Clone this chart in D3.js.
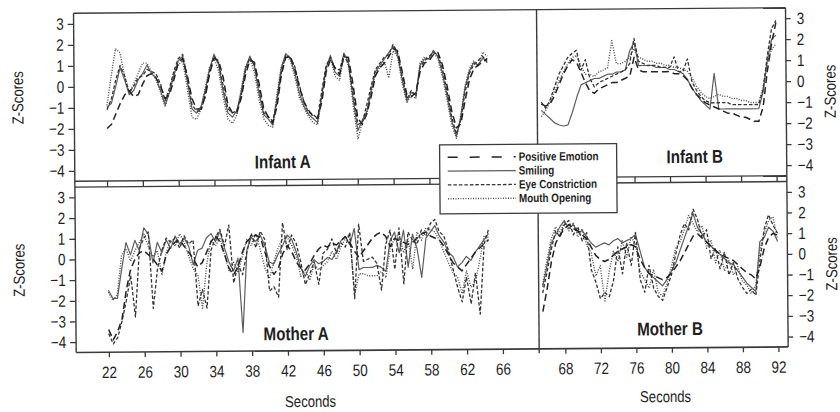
<!DOCTYPE html>
<html><head><meta charset="utf-8">
<script src="https://cdn.jsdelivr.net/npm/d3@7"></script>
<style>
body{margin:0;background:#fff;}
svg{display:block;}
text{font-family:"Liberation Sans",Arial,sans-serif;fill:#1e1e1e;}
</style></head><body><svg id="c" width="840" height="412"></svg>
<script>
// ---------- DATA ----------
const secondsA = [22,22.5,23,23.5,24,24.5,25,25.5,26,26.5,
  27,27.5,28,28.5,29,29.5,30,30.5,31,31.5,
  32,32.5,33,33.5,34,34.5,35,35.5,36,36.5,
  37,37.5,38,38.5,39,39.5,40,40.5,41,41.5,
  42,42.5,43,43.5,44,44.5,45,45.5,46,46.5,
  47,47.5,48,48.5,49,49.5,50,50.5,51,51.5,
  52,52.5,53,53.5,54,54.5,55,55.5,56,56.5,
  57,57.5,58,58.5,59,59.5,60,60.5,61,61.5,
  62,62.5,63,63.5,64,64.5];
const secondsB = [65.5,66,66.5,67,67.5,68,68.5,69,69.5,70,
  70.5,71,71.5,72,72.5,73,73.5,74,74.5,75,
  75.5,76,76.5,77,77.5,78,78.5,79,79.5,80,
  80.5,81,81.5,82,82.5,83,83.5,84,84.5,85,
  85.5,86,86.5,87,87.5,88,88.5,89,89.5,90,
  90.5,91,91.5,92];

const seriesNames = ["Positive Emotion","Smiling","Eye Constriction","Mouth Opening"];
const panelLabels = ["Infant A","Infant B","Mother A","Mother B"];
const zTicks = [-4,-3,-2,-1,0,1,2,3];
const secTicksA = [22,26,30,34,38,42,46,50,54,58,62,66];
const secTicksB = [68,72,76,80,84,88,92];

// Infant A
const infantA_positive = [-2.0,-1.8,-1.3,-0.8,-0.4,-0.2,-0.5,-0.4,0.1,0.5,
  0.6,0.4,0.0,-0.6,-0.4,0.3,1.1,1.3,0.5,-0.6,
  -1.1,-1.1,-0.5,0.6,1.3,1.2,0.4,-0.9,-1.3,-1.3,
  -0.6,0.5,1.2,1.1,0.1,-1.1,-1.5,-1.8,-1.0,0.5,
  1.3,1.4,0.8,-0.1,-0.8,-1.2,-1.5,-1.6,-0.8,0.6,
  1.2,0.8,0.5,1.3,1.3,0.0,-1.6,-1.9,-1.4,-0.6,
  0.4,0.8,1.0,1.3,1.7,1.6,0.6,-0.5,-0.6,-0.4,
  0.6,1.0,1.1,1.4,1.5,0.9,-0.1,-1.3,-2.1,-1.9,
  -0.8,0.2,0.7,0.9,1.0,1.2];
const infantA_smiling = [-1.0,-0.8,0.0,0.9,0.3,-0.4,-0.2,0.3,0.6,1.0,
  0.6,0.4,-0.2,-0.9,-0.3,0.5,1.2,1.4,0.2,-1.1,
  -1.3,-1.0,-0.2,0.8,1.5,1.0,-0.3,-1.3,-1.5,-1.2,
  -0.3,0.8,1.4,0.9,-0.4,-1.4,-1.6,-1.9,-0.6,0.8,
  1.5,1.3,0.6,-0.4,-1.0,-1.4,-1.6,-1.8,-0.5,0.8,
  1.4,0.6,0.4,1.5,1.1,-0.7,-2.2,-1.7,-1.3,-0.3,
  0.6,0.9,1.2,1.5,1.8,1.4,0.2,-0.8,-0.4,-0.5,
  0.9,1.2,1.2,1.6,1.3,0.5,-0.6,-1.8,-2.5,-1.6,
  -0.2,0.6,1.0,0.9,1.2,1.1];
const infantA_eye = [-1.1,-0.6,0.3,1.0,0.5,-0.3,0.0,0.4,0.5,0.8,
  0.7,0.6,0.1,-0.7,-0.1,0.7,1.3,1.5,0.4,-0.9,
  -1.2,-1.2,-0.4,0.7,1.4,1.1,0.0,-1.1,-1.3,-1.2,
  -0.5,0.7,1.3,1.0,-0.1,-1.3,-1.5,-1.7,-0.8,0.6,
  1.4,1.3,0.9,0.0,-0.8,-1.3,-1.4,-1.6,-0.3,0.9,
  1.3,0.8,0.7,1.4,1.0,-0.4,-1.9,-1.8,-1.0,-0.1,
  0.7,1.0,1.3,1.4,1.9,1.5,0.4,-0.7,-0.3,-0.6,
  0.8,1.1,1.3,1.5,1.4,0.7,-0.4,-1.6,-2.4,-1.7,
  -0.4,0.5,0.9,1.1,1.3,1.0];
const infantA_mouth = [-0.9,0.5,1.8,1.6,0.5,-0.3,0.1,0.6,1.1,1.1,
  0.7,0.3,-0.3,-1.0,-0.2,0.6,1.0,1.2,-0.2,-1.5,
  -1.6,-1.1,-0.1,0.9,1.3,0.7,-0.6,-1.6,-1.8,-1.4,
  -0.2,0.9,1.3,0.6,-0.7,-1.6,-1.9,-2.0,-0.4,0.9,
  1.4,1.2,0.4,-0.6,-1.1,-1.5,-1.8,-1.9,-0.6,0.7,
  1.3,0.4,0.2,1.5,0.9,-1.0,-2.6,-1.8,-1.4,-0.4,
  0.5,0.8,1.1,0.3,1.6,1.3,0.0,-0.9,-0.5,-0.7,
  1.0,1.3,1.2,1.5,1.2,0.3,-0.8,-2.0,-2.6,-1.5,
  -0.1,0.7,1.1,0.8,1.5,1.3];

// Infant B
const infantB_positive = [-1.0,-1.1,-1.0,-0.6,-0.1,0.4,0.8,1.1,1.0,0.5,
  0.0,-0.4,-0.5,-0.3,-0.2,-0.1,0.0,0.0,0.1,0.2,
  0.3,1.2,0.6,0.5,0.5,0.5,0.5,0.5,0.5,0.5,
  0.4,0.4,0.3,0.1,-0.3,-0.6,-0.8,-1.0,-1.1,-1.2,
  -1.3,-1.4,-1.5,-1.5,-1.6,-1.7,-1.7,-1.8,-1.9,-1.9,
  -1.2,0.5,1.8,2.8];
const infantB_smiling = [-1.3,-1.5,-1.7,-1.9,-2.0,-2.05,-2.0,-1.4,-0.7,-0.1,
  0.0,0.1,0.2,0.2,0.3,0.4,0.4,0.5,0.5,0.6,
  1.5,1.9,0.8,0.8,0.8,0.8,0.7,0.7,0.7,0.6,
  0.6,0.5,0.4,0.1,-0.3,-0.6,-0.9,-1.1,-1.3,0.4,
  -1.3,-1.3,-1.3,-1.3,-1.3,-1.3,-1.3,-1.3,-1.3,-1.3,
  -0.5,1.0,2.0,2.2];
const infantB_eye = [-0.9,-1.2,-0.8,-0.2,0.4,0.8,1.2,1.4,1.55,0.6,
  1.1,0.2,-0.2,0.0,0.1,0.2,0.3,0.4,0.5,0.6,
  0.9,2.1,1.0,0.9,0.8,0.8,0.8,0.7,0.7,0.7,
  1.2,0.5,0.5,1.1,0.0,-0.4,-0.7,-0.9,-1.0,-1.0,
  -1.0,-1.0,-1.0,-1.1,-1.1,-1.1,-1.1,-1.1,-1.1,-1.1,
  -0.4,1.2,2.5,2.9];
const infantB_mouth = [-1.6,-1.3,-0.9,-0.4,0.1,0.5,0.9,1.2,1.3,0.8,
  0.4,0.4,0.3,0.5,0.6,0.7,2.0,0.9,0.9,1.0,
  1.2,1.6,1.2,1.1,1.0,1.0,0.9,0.9,0.8,0.8,
  0.7,0.7,0.6,0.5,0.2,-0.2,-0.5,-0.7,-0.8,-0.7,
  -0.6,-0.7,-0.7,-0.8,-0.8,-0.9,-0.9,-1.0,-1.0,-1.0,
  -0.3,0.9,1.5,1.8];

// Mother A
const motherA_positive = [-3.4,-3.9,-3.5,-2.9,-1.5,-0.5,0.0,0.3,0.4,0.2,
  0.0,-0.3,-0.6,0.2,0.6,0.8,0.9,0.6,0.3,0.0,
  -0.4,-0.2,0.3,0.8,1.1,0.8,0.2,-0.5,-0.8,-0.4,
  0.3,0.8,1.0,1.1,1.0,0.3,-0.4,-0.8,-0.5,0.2,
  0.6,0.3,-0.2,-0.5,-0.6,-0.3,0.1,0.4,0.6,0.5,
  0.7,0.6,0.8,1.0,0.7,0.3,0.0,0.3,0.6,0.9,
  1.1,1.2,1.0,0.5,0.9,0.8,0.7,0.6,0.7,0.9,
  1.1,1.2,1.0,0.9,0.8,0.5,0.1,-0.3,-0.5,-0.7,
  -0.4,-0.1,0.2,0.4,0.6,0.8];
const motherA_smiling = [-1.5,-1.9,-1.9,-0.5,0.8,0.2,0.9,0.4,1.5,1.2,
  -0.2,0.8,0.3,0.9,0.5,1.1,0.7,1.0,0.6,-0.3,
  0.4,0.5,1.0,1.2,0.8,1.3,0.5,-0.2,-0.6,0.0,
  -3.6,0.4,1.0,0.8,1.1,0.6,-0.2,-0.3,0.2,0.6,
  1.1,0.9,0.3,-0.5,-0.9,-0.4,-0.1,-0.3,-0.2,0.0,
  -0.1,0.3,0.8,1.0,0.6,1.4,-0.6,-0.5,-0.5,-0.5,
  -0.4,-0.5,-0.7,0.8,1.2,0.2,1.3,-0.5,1.1,0.4,
  -1.0,0.9,1.2,1.5,1.0,0.7,0.2,0.0,-0.5,-0.3,
  0.0,-0.2,0.2,0.5,0.8,1.1];
const motherA_eye = [-3.6,-4.1,-3.8,-3.0,-2.0,-0.8,-2.8,0.5,1.0,1.3,
  -2.4,-0.5,0.4,1.0,0.8,1.0,0.5,1.1,0.7,0.9,
  -2.3,-1.5,-2.4,0.4,1.0,1.4,0.6,1.6,-1.2,-0.3,
  -0.8,0.3,1.2,0.5,1.3,0.9,-1.6,-1.4,-1.9,1.7,
  0.4,1.1,0.7,-0.2,-1.3,-0.8,-0.2,-1.3,0.2,0.4,
  0.9,0.2,0.7,0.5,1.2,-2.0,1.6,-0.2,-0.1,0.0,
  -0.3,-1.6,0.6,1.3,-0.6,1.4,-1.3,1.2,0.8,0.6,
  1.3,1.0,1.6,1.8,1.2,1.0,0.3,-0.6,-1.5,-2.2,
  -1.0,-2.3,-0.8,-2.8,0.6,1.3];
const motherA_mouth = [-1.6,-2.0,-1.7,0.2,0.5,-0.1,0.4,0.8,1.2,0.6,
  0.1,0.4,-0.8,0.3,0.9,0.6,1.2,0.8,0.1,-0.5,
  -0.8,-2.4,-0.3,0.9,0.6,1.0,0.2,-0.6,-0.2,-0.7,
  0.1,0.9,0.6,1.2,0.4,-0.5,-1.0,-0.2,0.5,0.9,
  1.0,0.6,0.1,-0.9,-0.6,-1.1,-0.3,-0.6,-0.4,-0.2,
  0.3,-0.1,0.5,0.9,1.1,-1.8,-0.8,-0.8,-0.9,-0.9,
  -0.9,-0.7,-1.0,0.4,0.9,1.1,0.2,0.9,-0.6,1.2,
  0.8,1.4,1.3,1.2,0.8,0.2,-0.3,-0.8,-1.0,-1.8,
  -0.7,-1.5,-1.2,-0.2,1.0,0.9];

// Mother B
const motherB_positive = [-2.7,-1.6,-0.3,0.6,1.0,1.3,1.5,1.3,1.2,1.0,
  0.8,0.4,0.0,-0.2,-0.3,-0.2,0.0,0.2,0.3,0.4,
  0.5,0.4,-0.2,-0.6,-0.9,-1.0,-1.1,-1.2,-1.1,-0.9,
  -0.6,-0.3,0.1,0.5,0.9,1.0,0.8,0.6,0.4,0.2,
  0.0,-0.1,-0.2,-0.3,-0.5,-0.7,-0.9,-1.0,-1.2,-0.6,
  0.3,0.8,1.0,0.9];
const motherB_smiling = [-1.5,-0.5,0.6,1.0,1.4,1.7,1.3,1.5,1.1,1.2,
  0.9,0.6,0.4,0.5,0.6,0.5,0.7,0.8,0.6,0.7,
  0.8,1.0,0.2,-0.6,-0.9,-1.1,-1.3,-1.5,-1.2,-0.8,
  -0.4,0.2,0.8,1.4,2.0,1.3,1.0,0.6,0.4,0.2,
  0.0,-0.2,-0.4,-0.5,-0.8,-1.1,-1.4,-1.6,-1.8,0.6,
  0.8,1.3,1.1,0.6];
const motherB_eye = [-1.8,-0.8,0.3,1.2,0.9,1.5,1.7,1.0,1.4,0.7,
  1.1,-0.7,-1.3,-2.1,-1.8,-2.0,-1.2,0.4,-0.9,0.6,
  -0.5,1.1,-1.2,-1.8,-0.5,-1.6,-2.0,-2.2,-1.6,-1.0,
  0.0,0.9,1.5,1.2,2.2,1.7,0.8,1.2,-0.2,0.3,
  -0.7,0.1,-1.0,-0.4,-1.2,-1.6,-1.9,-1.7,-2.0,-0.3,
  1.2,1.9,1.4,1.0];
const motherB_mouth = [-1.4,-0.2,0.8,1.4,1.1,1.6,1.2,1.6,0.9,1.3,
  0.5,0.1,-1.0,-0.5,-2.2,-0.8,0.2,-0.3,0.7,-0.1,
  0.9,0.5,-0.8,-1.2,-1.6,-0.7,-1.8,-2.0,-1.4,-0.6,
  0.3,0.6,1.2,1.9,1.5,1.1,1.4,0.3,0.7,-0.4,
  0.2,-0.8,-0.3,-1.0,-0.6,-1.3,-1.5,-1.9,-1.5,0.2,
  1.0,1.6,1.8,0.7];

// ---------- CHART ----------
const styles = [
  {stroke:"#222222", width:1.5, dash:"7,4"},   // Positive Emotion
  {stroke:"#5e5e5e", width:1.2, dash:null},    // Smiling
  {stroke:"#333333", width:1.3, dash:"3.5,2"}, // Eye Constriction
  {stroke:"#4c4c4c", width:1.4, dash:"1,1.5"}  // Mouth Opening
];

const svg = d3.select("#c");
const root = svg.append("g").attr("transform","rotate(-0.45,430,200)");

const xL = d3.scaleLinear().domain([18.35,70.05]).range([75,538]);
const xR = d3.scaleLinear().domain([65.05,93.1]).range([538,787]);
const yT = d3.scaleLinear().domain([-4.5,3.5]).range([178.5,10.5]);
const yB = d3.scaleLinear().domain([-4.5,3.5]).range([349.7,184.3]);

const panels = [
  {label:panelLabels[0], t:secondsA, x:xL, y:yT, s:[infantA_positive,infantA_smiling,infantA_eye,infantA_mouth], lx:283, ly:167},
  {label:panelLabels[1], t:secondsB, x:xR, y:yT, s:[infantB_positive,infantB_smiling,infantB_eye,infantB_mouth], lx:695, ly:165},
  {label:panelLabels[2], t:secondsA, x:xL, y:yB, s:[motherA_positive,motherA_smiling,motherA_eye,motherA_mouth], lx:295, ly:339},
  {label:panelLabels[3], t:secondsB, x:xR, y:yB, s:[motherB_positive,motherB_smiling,motherB_eye,motherB_mouth], lx:669, ly:337}
];

const drawOrder = [1,3,2,0];
panels.forEach(p => {
  const g = root.append("g");
  drawOrder.forEach(k => {
    const vals = p.s[k];
    const line = d3.line().x((d,i)=>p.x(p.t[i])).y(d=>p.y(d));
    g.append("path").datum(vals)
      .attr("d", line)
      .attr("fill","none")
      .attr("stroke", styles[k].stroke)
      .attr("stroke-width", styles[k].width)
      .attr("stroke-dasharray", styles[k].dash)
      .attr("stroke-linejoin","round");
  });
  root.append("text").attr("x",p.lx).attr("y",p.ly)
    .attr("text-anchor","middle").attr("font-size",18.5).attr("font-weight","bold")
    .text(p.label);
});

// frame
const frameColor = "#3a3a3a";
const fl = (x1,y1,x2,y2,w) => root.append("line").attr("x1",x1).attr("y1",y1).attr("x2",x2).attr("y2",y2)
  .attr("stroke",frameColor).attr("stroke-width",w||1.4);
fl(75,10.5,787,10.5);
fl(75,10.5,75,349.7);
fl(787,10.5,787,349.7);
fl(75,178.5,787,178.5);
fl(75,184.3,787,184.3);
fl(75,349.7,787,349.7,1.6);
fl(538,10.5,538,354);

// ticks between the panels
secTicksA.forEach(v => fl(xL(v),178.5,xL(v),184.3,1.3));
secTicksB.forEach(v => fl(xR(v),178.5,xR(v),184.3,1.3));

// axes
function styleAxis(g){
  g.select(".domain").remove();
  g.attr("font-family",null);
  g.selectAll(".tick line").attr("stroke",frameColor).attr("stroke-width",1.3);
  g.selectAll(".tick text").attr("font-size",16.5).attr("fill","#1e1e1e");
}
const zfmt = d => d<0 ? "\u2212"+Math.abs(d) : String(d);
const fmt = d3.format("d");
root.append("g").attr("transform","translate(75,0)")
  .call(d3.axisLeft(yT).tickValues(zTicks).tickSize(6).tickPadding(4).tickFormat(zfmt)).call(styleAxis);
root.append("g").attr("transform","translate(75,0)")
  .call(d3.axisLeft(yB).tickValues(zTicks).tickSize(6).tickPadding(4).tickFormat(zfmt)).call(styleAxis);
root.append("g").attr("transform","translate(787,0)")
  .call(d3.axisRight(yT).tickValues(zTicks).tickSize(5).tickPadding(6).tickFormat(zfmt)).call(styleAxis);
root.append("g").attr("transform","translate(787,0)")
  .call(d3.axisRight(yB).tickValues(zTicks).tickSize(5).tickPadding(6).tickFormat(zfmt)).call(styleAxis);
root.append("g").attr("transform","translate(0,349.7)")
  .call(d3.axisBottom(xL).tickValues(secTicksA).tickSize(5).tickPadding(9).tickFormat(fmt)).call(styleAxis);
root.append("g").attr("transform","translate(0,349.7)")
  .call(d3.axisBottom(xR).tickValues(secTicksB).tickSize(5).tickPadding(9).tickFormat(fmt)).call(styleAxis);

// axis titles
const title = (x,y,rot,txt) => root.append("text")
  .attr("transform",`translate(${x},${y}) rotate(${rot})`)
  .attr("text-anchor","middle").attr("font-size",16).text(txt);
title(24,94.5,-90,"Z-Scores");
title(24,267,-90,"Z-Scores");
title(836.5,94.5,-90,"Z-Scores");
title(836.5,267,-90,"Z-Scores");
title(309,406,0,"Seconds");
title(664,404,0,"Seconds");

// legend
const lg = root.append("g");
lg.append("rect").attr("x",440).attr("y",145).attr("width",177).attr("height",69)
  .attr("fill","#fff").attr("stroke",frameColor).attr("stroke-width",1.3);
seriesNames.forEach((n,i) => {
  const yy = 161.5 + i*13.8;
  lg.append("line").attr("x1",448).attr("x2",516).attr("y1",yy-4).attr("y2",yy-4)
    .attr("stroke",styles[i].stroke).attr("stroke-width",styles[i].width)
    .attr("stroke-dasharray", i===0 ? "10,12" : styles[i].dash);
  lg.append("text").attr("x",519).attr("y",yy).attr("font-size",12).attr("font-weight","bold").text(n);
});

// condensed lettering (narrow face): compress every text horizontally
root.selectAll("text").each(function(){
  const L = this.getComputedTextLength();
  d3.select(this).attr("textLength", (L*0.82).toFixed(2)).attr("lengthAdjust","spacingAndGlyphs");
});
</script></body></html>
